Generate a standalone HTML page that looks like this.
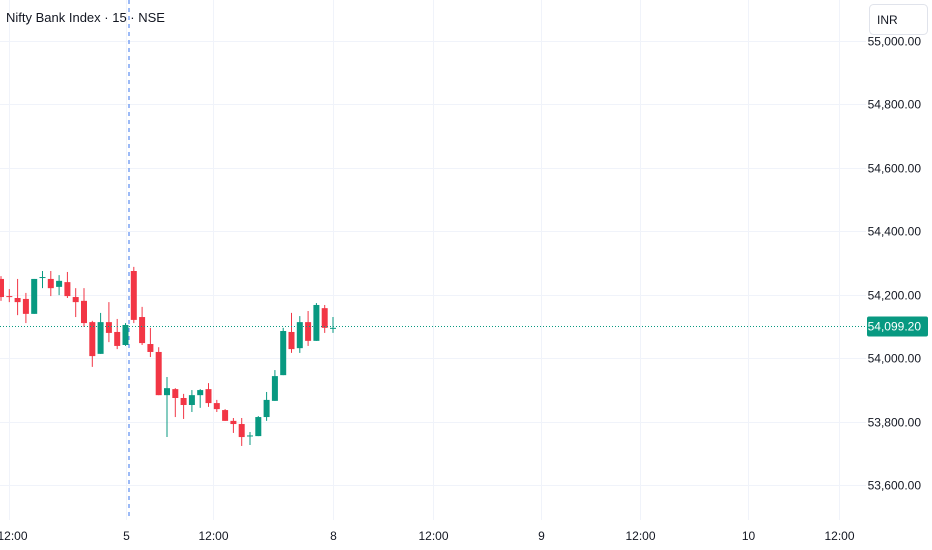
<!DOCTYPE html>
<html><head><meta charset="utf-8"><style>
html,body{margin:0;padding:0;background:#fff;}
svg{display:block;font-family:"Liberation Sans",sans-serif;}
</style></head><body>
<svg id="chart" width="932" height="550">
<g id="grid"></g>
<g id="yaxis"></g>
<g id="xaxis"></g>
<line x1="129" y1="0" x2="129" y2="520" stroke="#5b8def" stroke-width="1.2" stroke-dasharray="4,4"/>
<g id="candles"></g>
<g id="last"></g>
<text x="6" y="22" font-size="13" fill="#131722">Nifty Bank Index · 15 · NSE</text>
<g>
<rect x="869.5" y="4.5" width="58" height="30" rx="4" fill="#fff" stroke="#e0e3eb"/>
<text x="877" y="24" font-size="12" fill="#131722">INR</text>
</g>
</svg>
<script>
const opens =  [54249,54195,54189,54186,54139,54252,54249,54224,54239,54192,54180,54113,54013,54113,54082,54041,54274,54129,54044,54019,53883,53902,53874,53852,53883,53902,53858,53836,53802,53792,53754,53754,53814,53865,53946,54082,54031,54113,54054,54157,54095];
const highs =  [54258,54217,54249,54205,54249,54274,54274,54261,54271,54220,54220,54117,54142,54176,54123,54110,54287,54161,54095,54034,53940,53905,53887,53899,53902,53921,53868,53839,53811,53811,53767,53817,53893,53962,54095,54142,54132,54148,54173,54167,54129];
const lows =   [54180,54176,54135,54110,54139,54220,54195,54198,54189,54129,54098,53972,54013,54050,54028,54038,54110,54041,54003,53883,53751,53814,53808,53830,53843,53846,53830,53802,53764,53723,53726,53754,53802,53865,53946,54016,54016,54038,54054,54079,54079];
const closes = [54192,54192,54176,54139,54249,54255,54220,54243,54195,54176,54110,54006,54113,54079,54038,54104,54120,54047,54019,53883,53905,53874,53852,53883,53899,53858,53839,53802,53792,53751,53756,53814,53868,53943,54085,54028,54113,54054,54167,54095,54095];
const priceTicks = [53600,53800,54000,54200,54400,54600,54800,55000];
const timeLabels = ["12:00","5","12:00","8","12:00","9","12:00","10","12:00"];
const timeSlots = [1,15,25.5,40,52,65,77,90,101];
const lastPrice = 54099.20;

const NS="http://www.w3.org/2000/svg";
function yS(p){return 358-(p-54000)*0.3175;}
function xS(i){return 1+i*8.3;}
function mk(tag,attrs,parent){const e=document.createElementNS(NS,tag);for(const k in attrs)e.setAttribute(k,attrs[k]);parent.appendChild(e);return e;}
const grid=document.getElementById('grid'),ya=document.getElementById('yaxis'),xa=document.getElementById('xaxis'),cg=document.getElementById('candles'),lg=document.getElementById('last');
function fmt(v){return v.toLocaleString('en-US',{minimumFractionDigits:2,maximumFractionDigits:2});}
priceTicks.forEach(p=>{
  const y=Math.round(yS(p))+0.5;
  const l=mk('line',{x1:0,x2:866,y1:y,y2:y,stroke:'#f0f3fa'},grid);
  
  
  const t=mk('text',{x:921,y:y+4,'text-anchor':'end','font-size':12,fill:'#131722'},ya);
  t.textContent=fmt(p);
  
  
});
timeLabels.forEach((s,i)=>{
  const x=Math.round(xS(timeSlots[i]))+0.5;
  const l=mk('line',{x1:x,x2:x,y1:0,y2:520,stroke:'#f0f3fa'},grid);
  
  
  const t=mk('text',{x:x+ (i===0?3:0),y:540,'text-anchor':'middle','font-size':12,fill:'#131722'},xa);
  t.textContent=s;
  
  
});
opens.forEach((o,i)=>{
  const c=closes[i],up=c>=o,col=up?'#089981':'#f23645';
  const x=xS(i);
  const g=mk('g',{},cg);
  
  
  mk('line',{x1:x,x2:x,y1:yS(highs[i]),y2:yS(lows[i]),stroke:col,'stroke-width':1},g);
  const top=yS(Math.max(o,c)),bot=yS(Math.min(o,c));
  mk('rect',{x:x-3,y:top,width:6,height:Math.max(1,bot-top),fill:col},g);
});
const ly=yS(lastPrice);
const ll=mk('line',{x1:0,x2:866,y1:ly,y2:ly,stroke:'#089981','stroke-dasharray':'1,2'},lg);


const lr=mk('rect',{x:867,y:ly-10,width:61,height:20,rx:2,fill:'#089981'},lg);


const lt=mk('text',{x:921,y:ly+4,'text-anchor':'end','font-size':12,fill:'#fff'},lg);
lt.textContent=fmt(lastPrice);


</script>
</body></html>
